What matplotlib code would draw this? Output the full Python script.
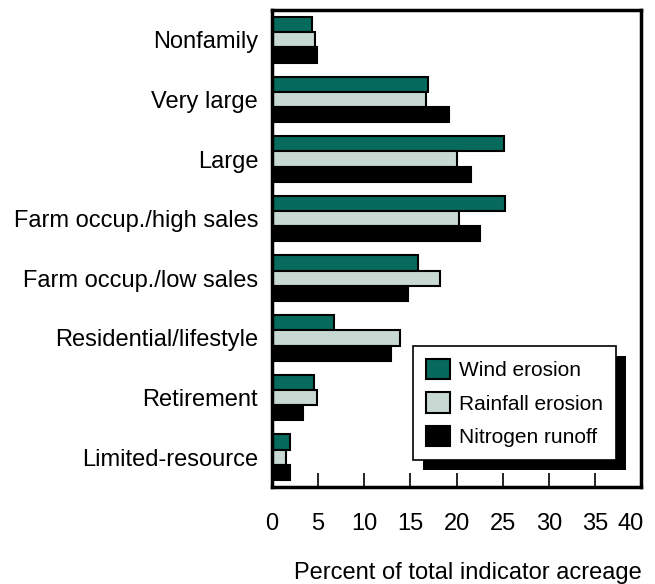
import numpy as np
import matplotlib
matplotlib.use('Agg')
import matplotlib.pyplot as plt
import matplotlib.transforms as mtransforms
from matplotlib.patches import Rectangle

plt.rcParams['font.family'] = ['Liberation Sans', 'DejaVu Sans']

# data
categories = ['Nonfamily', 'Very large', 'Large', 'Farm occup./high sales',
              'Farm occup./low sales', 'Residential/lifestyle', 'Retirement',
              'Limited-resource']
wind = [4.3, 16.9, 25.1, 25.3, 15.8, 6.7, 4.5, 1.9]
rain = [4.7, 16.7, 20.0, 20.3, 18.2, 13.9, 4.9, 1.5]
nitrogen = [4.9, 19.2, 21.6, 22.5, 14.7, 12.9, 3.4, 1.9]
series_names = ['Wind erosion', 'Rainfall erosion', 'Nitrogen runoff']
colors = ['#066a5c', '#c8d8d2', '#000000']
xticks = [0, 5, 10, 15, 20, 25, 30, 35, 40]

fig = plt.figure(figsize=(6.55, 5.84), dpi=100)
ax = fig.add_axes([0.4153, 0.166, 0.5633, 0.817])

y = np.arange(len(categories))
h = 0.255
for i, (vals, name, c) in enumerate(zip([wind, rain, nitrogen], series_names, colors)):
    ax.barh(y + (i - 1) * h, vals, height=h, color=c, edgecolor='black',
            linewidth=1.5, label=name)

ax.set_ylim(len(categories) - 0.5, -0.5)
ax.set_xlim(0, 40)
ax.set_yticks(y)
ax.set_yticklabels(categories, fontsize=17)
ax.tick_params(axis='y', length=0, pad=10)
ax.set_xticks(xticks)
ax.set_xticklabels([str(t) for t in xticks], fontsize=17)
ax.tick_params(axis='x', direction='in', length=10, width=1.2, pad=19)
for s in ax.spines.values():
    s.set_linewidth(2.5)
ax.set_xlabel('Percent of total indicator acreage', fontsize=17, labelpad=19,
              x=0.531)

# last tick label sits a bit left of its tick in the original
last = ax.get_xticklabels()[-1]
last.set_transform(last.get_transform() +
                   mtransforms.ScaledTranslation(-10 / 100, 0, fig.dpi_scale_trans))

leg = ax.legend(loc='upper left', bbox_to_anchor=(0.382, 0.296), fontsize=15,
                frameon=True, fancybox=False, edgecolor='black', framealpha=1,
                handlelength=1.15, handleheight=1.15, handletextpad=0.45,
                labelspacing=0.58, borderpad=0.62, borderaxespad=0)
leg.get_frame().set_linewidth(1.2)
leg.set_zorder(10)

# black drop shadow behind the legend box
fig.canvas.draw()
bb = leg.get_window_extent().transformed(fig.transFigure.inverted())
dx, dy = 10 / 655, 10 / 584
shadow = Rectangle((bb.x0 + dx, bb.y0 - dy), bb.width, bb.height,
                   transform=fig.transFigure, facecolor='black',
                   edgecolor='none', zorder=9)
ax.add_artist(shadow)
shadow.set_clip_on(False)

fig.savefig('out.png', dpi=100)
